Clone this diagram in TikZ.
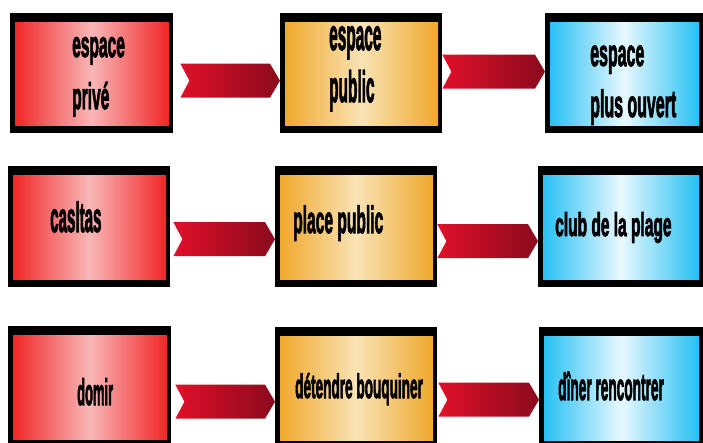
\documentclass[tikz,border=0pt]{standalone}
\usepackage{fontspec}
\newfontfamily\boxfont{Liberation Sans}[FakeBold=3]
\usetikzlibrary{calc}
\definecolor{redE}{HTML}{F01E1E}
\definecolor{redM}{HTML}{F9B7B7}
\definecolor{orE}{HTML}{EFA524}
\definecolor{orM}{HTML}{F9E3B5}
\definecolor{blE}{HTML}{1BBDF2}
\definecolor{blM}{HTML}{E8F8FF}
\definecolor{arrL}{HTML}{E0102A}
\definecolor{arrR}{HTML}{8A0A1C}
\newcommand\lbl[4]{\fontsize{#1bp}{#2bp}\selectfont\scalebox{#3}[1]{\begin{tabular}[t]{@{}l@{}}#4\end{tabular}}}
\newcommand\barrow[4]{%
  \shade[arrowsh] let \p1=([xshift=#3bp,yshift=#4bp]#1.east), \p2=(#2.west) in
  (\x1,\y1+17bp) -- (\x2-10bp,\y1+17bp) -- (\x2,\y1) -- (\x2-10bp,\y1-17bp)
  -- (\x1,\y1-17bp) -- (\x1+9bp,\y1) -- cycle;}
\tikzset{
  cbox/.style 2 args={fill=black, draw=none, inner sep=0pt, anchor=north west,
    minimum height=120bp,
    path picture={\shade[left color=#1, right color=#1, middle color=#2]
      ([shift={(5bp,-9bp)}]path picture bounding box.north west) rectangle
      ([shift={(-4bp,8bp)}]path picture bounding box.south east);}},
  rbox/.style={cbox={redE}{redM}},
  obox/.style={cbox={orE}{orM}},
  bbox/.style={cbox={blE}{blM}},
  arrowsh/.style={left color=arrL, right color=arrR},
  txt/.style={inner sep=0pt, anchor=base west, font=\boxfont\bfseries, text=black}
}
\begin{document}
\begin{tikzpicture}[x=1bp,y=-1bp]
\useasboundingbox[fill=white] (0,0) rectangle (703,443);
% row 1
\node[rbox, minimum width=163bp] (r1) at (10,13) {};
\node[obox, minimum width=162bp] (o1) at (280,13) {};
\node[bbox, minimum width=158bp] (b1) at (545,13) {};
% row 2
\node[rbox, minimum width=162bp, minimum height=121bp] (r2) at (8,166) {};
\node[obox, minimum width=162bp, minimum height=121bp] (o2) at (275,166) {};
\node[bbox, minimum width=165bp, minimum height=121bp] (b2) at (538,166) {};
% row 3
\node[rbox, minimum width=163bp, minimum height=121bp] (r3) at (8,326) {};
\node[obox, minimum width=162bp, minimum height=121bp] (o3) at (275,327) {};
\node[bbox, minimum width=164bp, minimum height=121bp] (b3) at (539,327) {};
% arrows
\barrow{r1}{o1}{7}{-7.5}
\barrow{o1}{b1}{0}{1.5}
\barrow{r2}{o2}{3}{-12.5}
\barrow{o2}{b2}{0}{-14.5}
\barrow{r3}{o3}{4}{-15}
\barrow{o3}{b3}{1}{-12}
% texts
\node[txt] (tr1) at (72,57) {\lbl{37}{52}{0.42}{espace\\privé}};
\node[txt] (to1) at (329,50) {\lbl{44}{52}{0.35}{espace\\public}};
\node[txt] (tb1) at (590,66) {\lbl{38}{51}{0.42}{espace\\plus ouvert}};
\node[txt] (tr2) at (50,232) {\lbl{42}{46}{0.36}{casltas}};
\node[txt] (to2) at (293,233) {\lbl{38}{42}{0.41}{place public}};
\node[txt] (tb2) at (555,236) {\lbl{33}{36}{0.47}{club de la plage}};
\node[txt] (tr3) at (77,405) {\lbl{37}{40}{0.35}{domir}};
\node[txt] (to3) at (295,398) {\lbl{34}{38}{0.40}{détendre bouquiner}};
\node[txt] (tb3) at (558,400) {\lbl{38}{42}{0.36}{dîner rencontrer}};
\end{tikzpicture}
\end{document}
